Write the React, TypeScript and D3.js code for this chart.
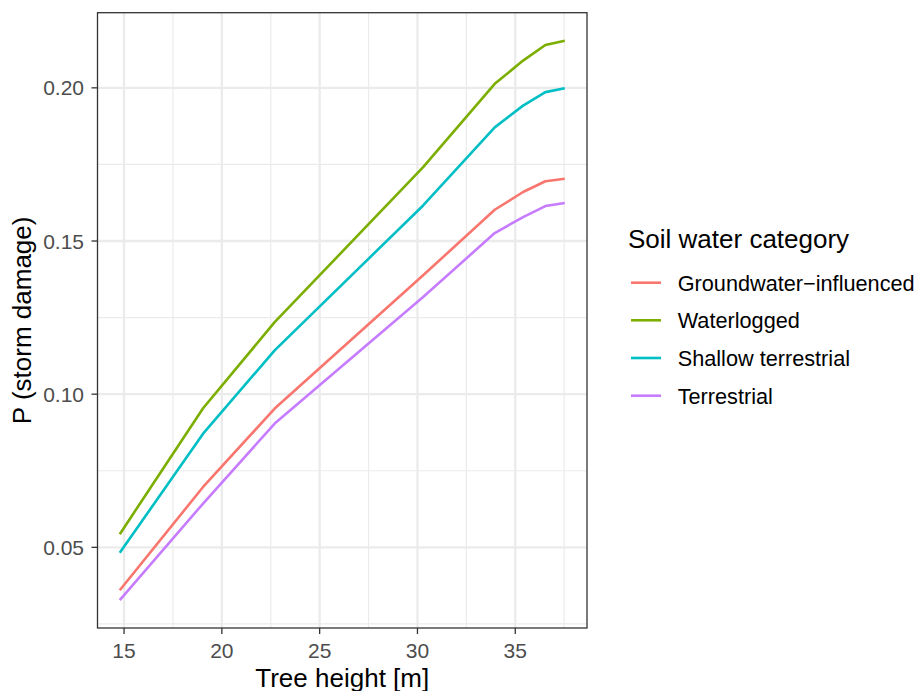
import * as d3 from "d3";

const WIDTH = 917;
const HEIGHT = 691;

// panel box (pixels)
const PANEL = { left: 97.5, right: 587, top: 12.7, bottom: 628 };

const FONT = "'Liberation Sans', Arial, Helvetica, sans-serif";

// tree height at which the predictions were evaluated
const heights = [14.78, 19.04, 22.7, 30.29, 33.95, 35.4, 36.54, 37.53];

const categories = [
  "Groundwater\u2212influenced",
  "Waterlogged",
  "Shallow terrestrial",
  "Terrestrial",
];

const colors = ["#F8766D", "#7CAE00", "#00BFC4", "#C77CFF"];

const groundwater = [0.036, 0.0697, 0.0953, 0.1388, 0.1602, 0.166, 0.1695, 0.1703];
const waterlogged = [0.0543, 0.0954, 0.1235, 0.1741, 0.2013, 0.2089, 0.214, 0.2154];
const shallow = [0.0482, 0.0871, 0.1143, 0.1616, 0.1871, 0.1942, 0.1986, 0.1999];
const terrestrial = [0.0328, 0.0643, 0.0904, 0.1317, 0.1526, 0.1578, 0.1614, 0.1624];

const seriesValues = [groundwater, waterlogged, shallow, terrestrial];

const xTicks = [15, 20, 25, 30, 35];
const xMinor = [17.5, 22.5, 27.5, 32.5, 37.5];
const yTicks = [0.05, 0.1, 0.15, 0.2];
const yMinor = [0.025, 0.075, 0.125, 0.175];

// ggplot style 5% expansion
function expand(ext: [number, number]): [number, number] {
  const pad = (ext[1] - ext[0]) * 0.05;
  return [ext[0] - pad, ext[1] + pad];
}

export default function App() {
  const x = d3
    .scaleLinear()
    .domain(expand(d3.extent(heights) as [number, number]))
    .range([PANEL.left, PANEL.right]);

  const allY = seriesValues.flat();
  const y = d3
    .scaleLinear()
    .domain(expand(d3.extent(allY) as [number, number]))
    .range([PANEL.bottom, PANEL.top]);

  const line = d3
    .line<[number, number]>()
    .x((d) => x(d[0]))
    .y((d) => y(d[1]));

  const tickColor = "#333333";
  const labelColor = "#4D4D4D";
  const panelMidX = (PANEL.left + PANEL.right) / 2;
  const panelMidY = (PANEL.top + PANEL.bottom) / 2;

  const legendX = 628;
  const legendRows = [282.7, 320.3, 358, 395.7];

  return (
    <svg
      width={WIDTH}
      height={HEIGHT}
      style={{ position: "absolute", left: 0, top: 0, background: "#fff" }}
      fontFamily={FONT}
    >
      <rect x={0} y={0} width={WIDTH} height={HEIGHT} fill="#fff" />

      {/* grid */}
      <g>
        {xMinor.map((t) => (
          <line key={`xm${t}`} x1={x(t)} x2={x(t)} y1={PANEL.top} y2={PANEL.bottom} stroke="#EBEBEB" strokeWidth={1.2} />
        ))}
        {yMinor.map((t) => (
          <line key={`ym${t}`} x1={PANEL.left} x2={PANEL.right} y1={y(t)} y2={y(t)} stroke="#EBEBEB" strokeWidth={1.2} />
        ))}
        {xTicks.map((t) => (
          <line key={`x${t}`} x1={x(t)} x2={x(t)} y1={PANEL.top} y2={PANEL.bottom} stroke="#EBEBEB" strokeWidth={2.3} />
        ))}
        {yTicks.map((t) => (
          <line key={`y${t}`} x1={PANEL.left} x2={PANEL.right} y1={y(t)} y2={y(t)} stroke="#EBEBEB" strokeWidth={2.3} />
        ))}
      </g>

      {/* lines */}
      {seriesValues.map((vals, i) => (
        <path
          key={categories[i]}
          d={line(heights.map((h, j) => [h, vals[j]] as [number, number])) || ""}
          fill="none"
          stroke={colors[i]}
          strokeWidth={2.6}
          strokeLinejoin="round"
        />
      ))}

      {/* panel border */}
      <rect
        x={PANEL.left}
        y={PANEL.top}
        width={PANEL.right - PANEL.left}
        height={PANEL.bottom - PANEL.top}
        fill="none"
        stroke={tickColor}
        strokeWidth={1.3}
      />

      {/* x axis */}
      {xTicks.map((t) => (
        <g key={`xt${t}`}>
          <line x1={x(t)} x2={x(t)} y1={PANEL.bottom} y2={PANEL.bottom + 6} stroke={tickColor} strokeWidth={1.3} />
          <text x={x(t)} y={657.5} textAnchor="middle" fontSize={21} fill={labelColor}>
            {t}
          </text>
        </g>
      ))}
      <text x={panelMidX} y={686.5} textAnchor="middle" fontSize={26} fill="#000">
        Tree height [m]
      </text>

      {/* y axis */}
      {yTicks.map((t) => (
        <g key={`yt${t}`}>
          <line x1={PANEL.left - 6} x2={PANEL.left} y1={y(t)} y2={y(t)} stroke={tickColor} strokeWidth={1.3} />
          <text x={84} y={y(t)} dy="0.36em" textAnchor="end" fontSize={21} fill={labelColor}>
            {d3.format(".2f")(t)}
          </text>
        </g>
      ))}
      <text
        transform={`translate(31,${panelMidY}) rotate(-90)`}
        textAnchor="middle"
        fontSize={26}
        fill="#000"
      >
        P (storm damage)
      </text>

      {/* legend */}
      <text x={legendX} y={248.3} fontSize={26} fill="#000">
        Soil water category
      </text>
      {categories.map((c, i) => (
        <g key={`lg${c}`}>
          <line x1={631} x2={661} y1={legendRows[i]} y2={legendRows[i]} stroke={colors[i]} strokeWidth={2.6} />
          <text x={677.7} y={legendRows[i]} dy="0.36em" fontSize={21.7} fill="#000">
            {c}
          </text>
        </g>
      ))}
    </svg>
  );
}
